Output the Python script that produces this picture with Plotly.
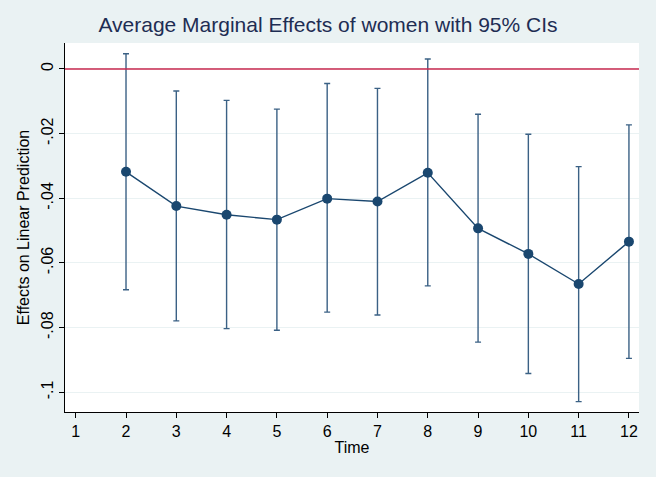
import plotly.graph_objects as go

time = [2, 3, 4, 5, 6, 7, 8, 9, 10, 11, 12]
effect = [-0.0318, -0.0424, -0.0451, -0.0466, -0.0401, -0.0410, -0.0321, -0.0493, -0.0572, -0.0665, -0.0534]
ci_upper = [0.0047, -0.0068, -0.0097, -0.0124, -0.0045, -0.0060, 0.0031, -0.0140, -0.0202, -0.0302, -0.0173]
ci_lower = [-0.0683, -0.0779, -0.0803, -0.0808, -0.0752, -0.0761, -0.0671, -0.0845, -0.0942, -0.1029, -0.0895]

x_ticks = [1, 2, 3, 4, 5, 6, 7, 8, 9, 10, 11, 12]
y_ticks = [0, -0.02, -0.04, -0.06, -0.08, -0.1]
y_ticklabels = ["0", "-.02", "-.04", "-.06", "-.08", "-.1"]

navy = "#1A476F"
font = "Liberation Sans, Arial, sans-serif"

fig = go.Figure()
fig.add_trace(go.Scatter(
    x=time, y=effect, mode="lines+markers",
    line=dict(color=navy, width=1.4),
    marker=dict(color=navy, size=10),
    error_y=dict(type="data", symmetric=False,
                 array=[u - e for u, e in zip(ci_upper, effect)],
                 arrayminus=[e - l for e, l in zip(effect, ci_lower)],
                 color="#3B6185", thickness=1.4, width=3),
    showlegend=False,
))

fig.add_shape(type="line", xref="paper", yref="y", x0=0, x1=1, y0=0, y1=0,
              line=dict(color="#C8284F", width=1.6), layer="above")

fig.update_layout(
    width=656, height=477,
    paper_bgcolor="#EAF2F3", plot_bgcolor="white",
    margin=dict(l=65, r=17, t=43, b=65),
    font=dict(family=font, size=16, color="black"),
    title=dict(text="Average Marginal Effects of women with 95% CIs",
               x=0.5, xanchor="center", y=0.948, yanchor="middle",
               font=dict(size=21, color="#1E2D53", family=font)),
    xaxis=dict(range=[0.787, 12.2], tickvals=x_ticks, showgrid=False, zeroline=False,
               showline=True, linecolor="black", linewidth=1,
               ticks="outside", ticklen=5, tickcolor="black",
               title=dict(text="Time", standoff=2, font=dict(size=16))),
    yaxis=dict(range=[-0.1061, 0.00804], tickvals=y_ticks, ticktext=y_ticklabels,
               tickangle=-90, showgrid=True, gridcolor="#EAF2F3", gridwidth=1,
               zeroline=False, showline=True, linecolor="black", linewidth=1,
               ticks="outside", ticklen=5, tickcolor="black",
               title=dict(text="Effects on Linear Prediction", standoff=4, font=dict(size=16))),
)

fig.write_html("out.html", config={"displayModeBar": False},
               post_script="document.body.style.margin='0';document.body.style.padding='0';")
